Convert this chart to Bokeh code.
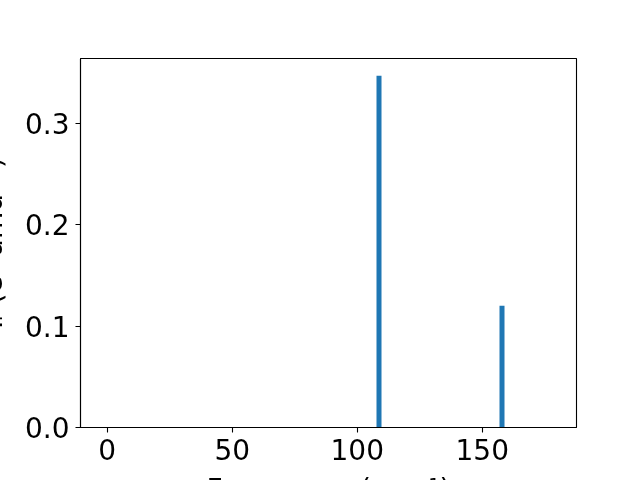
from bokeh.plotting import figure
from bokeh.models import Range1d, FixedTicker
from bokeh.embed import file_html
from bokeh.resources import INLINE

# Data
frequencies = [108.7, 157.9]
intensities = [0.347, 0.120]
bar_width = 2.0
x_ticks = [0, 50, 100, 150]
y_ticks = [0.0, 0.1, 0.2, 0.3]
x_title = "Frequency (cm\u207b\u00b9)"
y_title = "I\u1d63 (e\u00b2 amu\u207b\u00b9)"

FONT = "DejaVu Sans"
FS = "28px"
SHIFT_X = 36   # part of the canvas pushed off the left edge (matplotlib-style clipping)
EXTRA_Y = 40   # part of the canvas hanging below the bottom edge

p = figure(width=640 + SHIFT_X, height=480 + EXTRA_Y, output_backend="svg", toolbar_location=None,
           x_range=Range1d(-10.7, 187.7), y_range=Range1d(0, 0.3639),
           min_border_left=80 + SHIFT_X, min_border_right=64, min_border_top=58,
           min_border_bottom=53 + EXTRA_Y)
p.styles = {"position": "fixed", "left": f"-{SHIFT_X}px", "top": "0px"}

p.vbar(x=frequencies, top=intensities, width=bar_width, bottom=0,
       fill_color="#1f77b4", line_color=None)

p.xgrid.visible = False
p.ygrid.visible = False
p.outline_line_color = "black"
p.outline_line_width = 1.1
p.outline_line_alpha = 1.0
p.background_fill_color = "white"
p.border_fill_color = "white"

for ax in (p.xaxis[0], p.yaxis[0]):
    ax.axis_line_color = "black"
    ax.axis_line_width = 1.1
    ax.major_tick_line_color = "black"
    ax.major_tick_line_width = 1.1
    ax.major_tick_out = 5
    ax.major_tick_in = 0
    ax.minor_tick_line_color = None
    ax.major_label_text_font = FONT
    ax.major_label_text_font_size = FS
    ax.major_label_text_color = "black"
    ax.axis_label_text_font = FONT
    ax.axis_label_text_font_size = FS
    ax.axis_label_text_font_style = "normal"
    ax.axis_label_text_color = "black"

p.xaxis[0].ticker = FixedTicker(ticks=x_ticks)
p.yaxis[0].ticker = FixedTicker(ticks=y_ticks)
p.xaxis[0].major_label_overrides = {t: str(t) for t in x_ticks}
p.yaxis[0].major_label_overrides = {t: f"{t:.1f}" for t in y_ticks}
p.xaxis[0].major_label_standoff = 6
p.yaxis[0].major_label_standoff = 6

p.xaxis[0].axis_label = x_title
p.yaxis[0].axis_label = y_title
p.xaxis[0].axis_label_standoff = 10
p.yaxis[0].axis_label_standoff = 13

open("out.html", "w").write(file_html(p, INLINE))
